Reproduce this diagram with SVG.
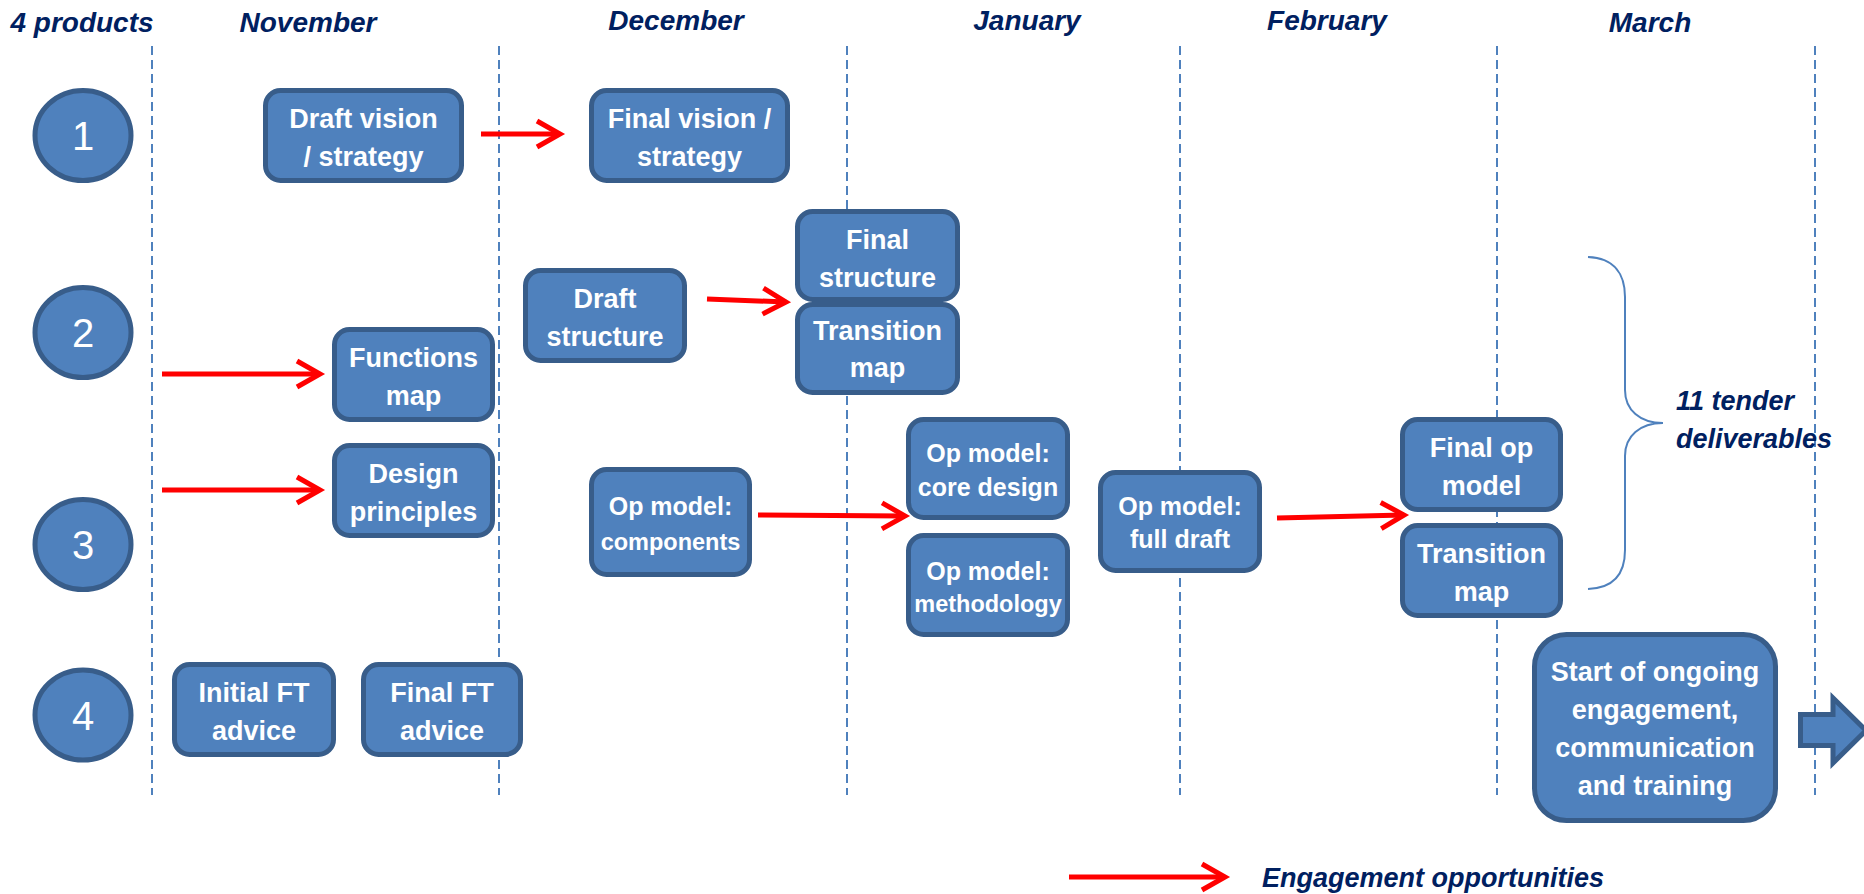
<svg xmlns="http://www.w3.org/2000/svg" width="1864" height="894" viewBox="0 0 1864 894">
<style>
.hdr{font-family:"Liberation Sans",Arial,sans-serif;font-weight:bold;font-style:italic;font-size:28px;fill:#002060;text-anchor:middle}
.lbl{font-family:"Liberation Sans",Arial,sans-serif;font-weight:bold;font-style:italic;font-size:27px;fill:#002060}
.box{fill:#4f81bd;stroke:#385d8a;stroke-width:5}
.num{font-family:"Liberation Sans",Arial,sans-serif;font-size:40px;fill:#ffffff;text-anchor:middle}
.t{font-family:"Liberation Sans",Arial,sans-serif;font-weight:bold;font-size:27px;fill:#ffffff;text-anchor:middle}
.s{font-size:25px}
.xs{font-size:23.5px}
.grid{stroke:#4f81bd;stroke-width:2;stroke-dasharray:9 5}
.red{stroke:#ff0000;stroke-width:5;fill:none;marker-end:url(#chev)}
</style>
<defs>
<marker id="chev" markerUnits="userSpaceOnUse" markerWidth="40" markerHeight="40" viewBox="-30 -20 40 40" refX="0" refY="0" orient="auto" overflow="visible">
<path d="M-23,-13 L0,0 L-23,13" fill="none" stroke="#ff0000" stroke-width="5" stroke-linejoin="miter"/>
</marker>
</defs>
<rect width="1864" height="894" fill="#ffffff"/>

<g id="grid">
<line class="grid" x1="152" y1="46" x2="152" y2="795"/>
<line class="grid" x1="499" y1="46" x2="499" y2="795"/>
<line class="grid" x1="847" y1="46" x2="847" y2="795"/>
<line class="grid" x1="1180" y1="46" x2="1180" y2="795"/>
<line class="grid" x1="1497" y1="46" x2="1497" y2="795"/>
<line class="grid" x1="1815" y1="46" x2="1815" y2="795"/>
</g>

<g id="headers">
<text class="hdr" x="82" y="32">4 products</text>
<text class="hdr" x="308" y="32">November</text>
<text class="hdr" x="676" y="30">December</text>
<text class="hdr" x="1027" y="30">January</text>
<text class="hdr" x="1327" y="30">February</text>
<text class="hdr" x="1650" y="32">March</text>
</g>

<g id="p1"><ellipse class="box" cx="83" cy="135.5" rx="48" ry="45"/><text class="num" x="83" y="150">1</text></g>
<g id="p2"><ellipse class="box" cx="83" cy="332.5" rx="48" ry="45"/><text class="num" x="83" y="347">2</text></g>
<g id="p3"><ellipse class="box" cx="83" cy="544.5" rx="48" ry="45"/><text class="num" x="83" y="559">3</text></g>
<g id="p4"><ellipse class="box" cx="83" cy="715" rx="48" ry="45"/><text class="num" x="83" y="729.5">4</text></g>

<g id="draft-vision"><rect class="box" x="265.5" y="90.5" width="196" height="90" rx="15"/><text class="t" x="363.5" y="128">Draft vision</text><text class="t" x="363.5" y="166">/ strategy</text></g>
<g id="final-vision"><rect class="box" x="591.5" y="90.5" width="196" height="90" rx="15"/><text class="t" x="689.5" y="128">Final vision /</text><text class="t" x="689.5" y="166">strategy</text></g>
<g id="final-structure"><rect class="box" x="797.5" y="211.5" width="160" height="88" rx="15"/><text class="t" x="877.5" y="249">Final</text><text class="t" x="877.5" y="287">structure</text></g>
<g id="transition-map-dec"><rect class="box" x="797.5" y="304.5" width="160" height="88" rx="15"/><text class="t" x="877.5" y="340">Transition</text><text class="t" x="877.5" y="377">map</text></g>
<g id="draft-structure"><rect class="box" x="525.5" y="270.5" width="159" height="90" rx="15"/><text class="t" x="605" y="308">Draft</text><text class="t" x="605" y="346">structure</text></g>
<g id="functions-map"><rect class="box" x="334.5" y="329.5" width="158" height="90" rx="15"/><text class="t" x="413.5" y="367">Functions</text><text class="t" x="413.5" y="405">map</text></g>
<g id="design-principles"><rect class="box" x="334.5" y="445.5" width="158" height="90" rx="15"/><text class="t" x="413.5" y="483">Design</text><text class="t" x="413.5" y="521">principles</text></g>
<g id="op-components"><rect class="box" x="591.5" y="469.5" width="158" height="105" rx="15"/><text class="t s" x="670.5" y="515">Op model:</text><text class="t xs" x="670.5" y="550">components</text></g>
<g id="op-core"><rect class="box" x="908.5" y="419.5" width="159" height="98" rx="15"/><text class="t s" x="988" y="462">Op model:</text><text class="t s" x="988" y="496">core design</text></g>
<g id="op-methodology"><rect class="box" x="908.5" y="535.5" width="159" height="99" rx="15"/><text class="t s" x="988" y="580">Op model:</text><text class="t xs" x="988" y="612">methodology</text></g>
<g id="op-full-draft"><rect class="box" x="1100.5" y="472.5" width="159" height="98" rx="15"/><text class="t s" x="1180" y="515">Op model:</text><text class="t s" x="1180" y="548">full draft</text></g>
<g id="final-op-model"><rect class="box" x="1402.5" y="419.5" width="158" height="90" rx="15"/><text class="t" x="1481.5" y="457">Final op</text><text class="t" x="1481.5" y="495">model</text></g>
<g id="transition-map-mar"><rect class="box" x="1402.5" y="525.5" width="158" height="90" rx="15"/><text class="t" x="1481.5" y="563">Transition</text><text class="t" x="1481.5" y="601">map</text></g>
<g id="initial-ft"><rect class="box" x="174.5" y="664.5" width="159" height="90" rx="15"/><text class="t" x="254" y="702">Initial FT</text><text class="t" x="254" y="740">advice</text></g>
<g id="final-ft"><rect class="box" x="363.5" y="664.5" width="157" height="90" rx="15"/><text class="t" x="442" y="702">Final FT</text><text class="t" x="442" y="740">advice</text></g>
<g id="ongoing"><rect class="box" x="1534.5" y="634.5" width="241" height="186" rx="32"/><text class="t" x="1655" y="681">Start of ongoing</text><text class="t" x="1655" y="719">engagement,</text><text class="t" x="1655" y="757">communication</text><text class="t" x="1655" y="795">and training</text></g>
<g id="continue-arrow"><path class="box" d="M1800.5,714.5 L1833,714.5 L1833,698 L1866,730.5 L1833,763 L1833,745.5 L1800.5,745.5 Z"/></g>

<g id="brace"><path d="M1588,257 C1615,258 1625,275 1625,297 L1625,390 C1625,410 1640,423 1663,423 C1640,423 1625,436 1625,456 L1625,550 C1625,572 1615,588 1588,589" fill="none" stroke="#4f81bd" stroke-width="2"/>
<text class="lbl" x="1676" y="410">11 tender</text><text class="lbl" x="1676" y="448">deliverables</text></g>

<g id="connectors">
<path class="red" d="M481,134 L560,134"/>
<path class="red" d="M707,299 L786,302"/>
<path class="red" d="M162,374 L320,374"/>
<path class="red" d="M162,490 L320,490"/>
<path class="red" d="M758,515 L905,516"/>
<path class="red" d="M1277,518 L1404,515"/>
</g>

<g id="legend">
<path class="red" d="M1069,877 L1225,877"/>
<text class="lbl" x="1262" y="887">Engagement opportunities</text>
</g>
</svg>
